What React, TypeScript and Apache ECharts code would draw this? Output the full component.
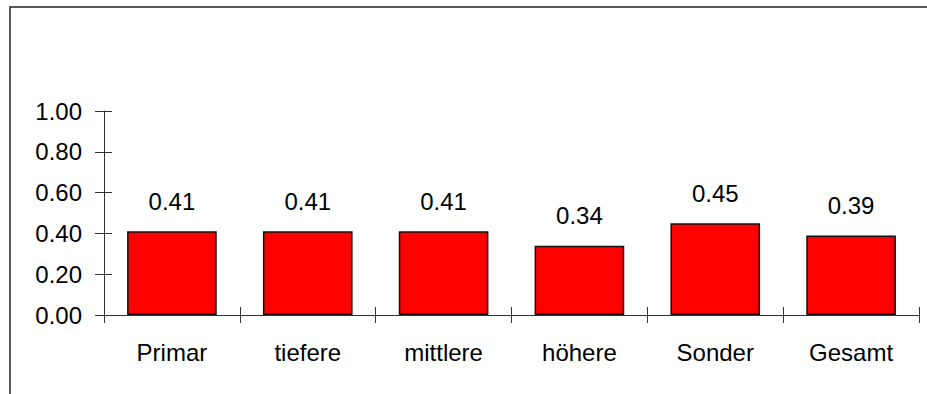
import React, { useEffect, useRef } from "react";
import * as echarts from "echarts";

const categories = ["Primar", "tiefere", "mittlere", "höhere", "Sonder", "Gesamt"];
const values = [0.41, 0.41, 0.41, 0.34, 0.45, 0.39];
const yTicks = [0, 0.2, 0.4, 0.6, 0.8, 1.0];

const FONT = "'Liberation Sans', Arial, sans-serif";
const AXIS_COLOR = "#333";

export default function App() {
  const ref = useRef<HTMLDivElement>(null);

  useEffect(() => {
    document.body.style.margin = "0";
    if (!ref.current) return;
    const chart = echarts.init(ref.current, null, { renderer: "svg" });

    const baseY = {
      type: "value" as const,
      min: yTicks[0],
      max: yTicks[yTicks.length - 1],
      interval: 0.2,
      splitLine: { show: false },
    };

    chart.setOption({
      animation: false,
      backgroundColor: "#fff",
      textStyle: { fontFamily: FONT },
      grid: { left: 104, right: 8, top: 111, bottom: 79 },
      graphic: [
        {
          type: "rect",
          shape: { x: 10, y: 7, width: 1200, height: 600 },
          style: { fill: "none", stroke: "#222", lineWidth: 1.5 },
          silent: true,
          z: -1,
        },
      ],
      xAxis: [
        {
          type: "category",
          data: categories,
          axisLine: { show: true, lineStyle: { color: AXIS_COLOR, width: 1 } },
          axisTick: { show: true, length: 8, lineStyle: { color: AXIS_COLOR } },
          axisLabel: { color: "#000", fontSize: 24, fontFamily: FONT, margin: 25 },
        },
        {
          type: "category",
          data: categories,
          position: "bottom",
          axisLine: { show: false },
          axisTick: { show: true, inside: true, length: 8, lineStyle: { color: AXIS_COLOR } },
          axisLabel: { show: false },
        },
      ],
      yAxis: [
        {
          ...baseY,
          axisLine: { show: true, lineStyle: { color: AXIS_COLOR, width: 1 } },
          axisTick: { show: true, length: 9, lineStyle: { color: AXIS_COLOR } },
          axisLabel: {
            color: "#000",
            fontSize: 24,
            fontFamily: FONT,
            margin: 22,
            formatter: (v: number) => v.toFixed(2),
          },
        },
        {
          ...baseY,
          position: "left",
          axisLine: { show: false },
          axisTick: { show: true, inside: true, length: 8, lineStyle: { color: AXIS_COLOR } },
          axisLabel: { show: false },
        },
      ],
      series: [
        {
          type: "bar",
          data: values,
          barWidth: "66%",
          itemStyle: { color: "#FF0000", borderColor: "#111", borderWidth: 1.5 },
          label: {
            show: true,
            position: "top",
            distance: 18,
            color: "#000",
            fontSize: 24,
            fontFamily: FONT,
            formatter: (p: any) => Number(p.value).toFixed(2),
          },
        },
      ],
    });

    return () => chart.dispose();
  }, []);

  return <div ref={ref} style={{ width: 927, height: 394 }} />;
}
